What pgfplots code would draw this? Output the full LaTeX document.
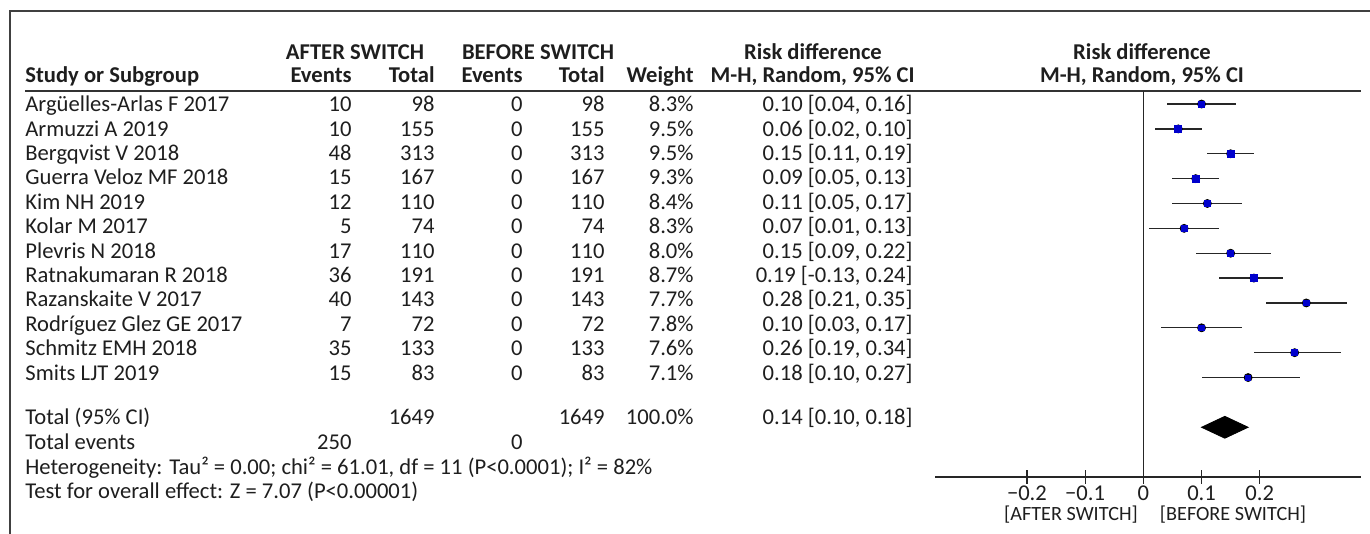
\documentclass[border=0pt]{standalone}
\usepackage{fontspec}
\setmainfont{Carlito}
\usepackage{pgfplots}
\usepackage{pgfplotstable}
\pgfplotsset{compat=1.18}
\definecolor{sqblue}{RGB}{0,0,204}
\definecolor{txt}{RGB}{30,30,30}
\pgfplotstableread{
row est lo hi w
1 0.10 0.04 0.16 8.3
2 0.06 0.02 0.10 9.5
3 0.15 0.11 0.19 9.5
4 0.09 0.05 0.13 9.3
5 0.11 0.05 0.17 8.4
6 0.07 0.01 0.13 8.3
7 0.15 0.09 0.22 8.0
8 0.19 0.13 0.24 8.7
9 0.28 0.21 0.35 7.7
10 0.10 0.03 0.17 7.8
11 0.26 0.19 0.34 7.6
12 0.18 0.10 0.27 7.1
}\forest
\newcommand{\studyrow}[8]{%
 \node[anchor=mid west] at (25,#1) {#2};
 \node[anchor=mid east] at (352,#1) {#3};
 \node[anchor=mid east] at (435,#1) {#4};
 \node[anchor=mid east] at (523,#1) {#5};
 \node[anchor=mid east] at (605,#1) {#6};
 \node[anchor=mid east] at (694,#1) {#7};
 \node[anchor=mid east] at (913,#1) {#8};}
\begin{document}
\begin{tikzpicture}
\begin{scope}[x=0.5pt,y=-0.5pt, every node/.style={inner sep=0pt, font=\fontsize{11.3}{13}\selectfont, text=txt}]
\useasboundingbox (0,0) rectangle (1370,534);
% frame
\draw[black!75, line width=0.6pt] (10,534) -- (10,11) -- (1370,11);
% header line
\draw[black!80, line width=0.6pt] (25,91) -- (1361,91);
% headers
\begin{scope}[every node/.append style={font=\fontsize{11.3}{13}\selectfont\bfseries}]
\node[anchor=mid] at (355,55) {AFTER SWITCH};
\node[anchor=mid] at (538,55) {BEFORE SWITCH};
\node[anchor=mid] at (813,55) {Risk difference};
\node[anchor=mid] at (1142,55) {Risk difference};
\node[anchor=mid west] at (25,78) {Study or Subgroup};
\node[anchor=mid east] at (352,78) {Events};
\node[anchor=mid east] at (435,78) {Total};
\node[anchor=mid east] at (523,78) {Events};
\node[anchor=mid east] at (605,78) {Total};
\node[anchor=mid east] at (694,78) {Weight};
\node[anchor=mid east] at (915,78) {M-H, Random, 95\% CI};
\node[anchor=mid] at (1142,78) {M-H, Random, 95\% CI};
\end{scope}
\studyrow{107}{Argüelles-Arlas F 2017}{10}{98}{0}{98}{8.3\%}{0.10 [0.04, 0.16]}
\studyrow{131.4}{Armuzzi A 2019}{10}{155}{0}{155}{9.5\%}{0.06 [0.02, 0.10]}
\studyrow{155.8}{Bergqvist V 2018}{48}{313}{0}{313}{9.5\%}{0.15 [0.11, 0.19]}
\studyrow{180.2}{Guerra Veloz MF 2018}{15}{167}{0}{167}{9.3\%}{0.09 [0.05, 0.13]}
\studyrow{204.6}{Kim NH 2019}{12}{110}{0}{110}{8.4\%}{0.11 [0.05, 0.17]}
\studyrow{229}{Kolar M 2017}{5}{74}{0}{74}{8.3\%}{0.07 [0.01, 0.13]}
\studyrow{253.4}{Plevris N 2018}{17}{110}{0}{110}{8.0\%}{0.15 [0.09, 0.22]}
\studyrow{277.8}{Ratnakumaran R 2018}{36}{191}{0}{191}{8.7\%}{0.19 [-0.13, 0.24]}
\studyrow{302.2}{Razanskaite V 2017}{40}{143}{0}{143}{7.7\%}{0.28 [0.21, 0.35]}
\studyrow{326.6}{Rodríguez Glez GE 2017}{7}{72}{0}{72}{7.8\%}{0.10 [0.03, 0.17]}
\studyrow{351}{Schmitz EMH 2018}{35}{133}{0}{133}{7.6\%}{0.26 [0.19, 0.34]}
\studyrow{375.4}{Smits LJT 2019}{15}{83}{0}{83}{7.1\%}{0.18 [0.10, 0.27]}
\node[anchor=mid west] at (25,420) {Total (95\% CI)};
\node[anchor=mid east] at (435,420) {1649};
\node[anchor=mid east] at (605,420) {1649};
\node[anchor=mid east] at (694,420) {100.0\%};
\node[anchor=mid east] at (913,420) {0.14 [0.10, 0.18]};
\node[anchor=mid west] at (25,445) {Total events};
\node[anchor=mid east] at (352,445) {250};
\node[anchor=mid east] at (523,445) {0};
\node[anchor=mid west] at (25,470) {Heterogeneity: Tau² = 0.00; chi² = 61.01, df = 11 (P<0.0001); I² = 82\%};
\node[anchor=mid west] at (25,494) {Test for overall effect: Z = 7.07 (P<0.00001)};
\node[anchor=mid, font=\fontsize{10.1}{12}\selectfont] at (1071,516) {[AFTER SWITCH]};
\node[anchor=mid, font=\fontsize{10.1}{12}\selectfont] at (1233,516) {[BEFORE SWITCH]};
\end{scope}
\begin{axis}[at={(467.5pt,-45.5pt)}, anchor=north west, scale only axis,
  width=213pt, height=193pt,
  xmin=-0.358, xmax=0.374, ymin=-16.0, ymax=-0.476,
  axis x line*=bottom, axis y line=none,
  axis line style={black!85, line width=0.6pt},
  xtick={-0.2,-0.1,0,0.1,0.2},
  xticklabels={{−0.2},{−0.1},0,0.1,0.2},
  tick align=center, major tick length=6.5pt,
  tick style={black!85, line width=0.6pt},
  xticklabel style={font=\fontsize{11.3}{13}\selectfont, text=txt, inner sep=0pt, yshift=-1pt},
  clip=false]
\addplot[black!85, line width=0.6pt] coordinates {(0,-0.476) (0,-16.0)};
\addplot[only marks, mark=none, error bars/.cd, x dir=both, x explicit, error mark=none,
  error bar style={line width=0.65pt, black!85}]
  table[x=est, y expr=-\thisrow{row}, x error plus expr=\thisrow{hi}-\thisrow{est}, x error minus expr=\thisrow{est}-\thisrow{lo}]{\forest};
\addplot[only marks, mark=square*, scatter, scatter/use mapped color={draw=sqblue, fill=sqblue},
  visualization depends on={\thisrow{w} \as \wt},
  scatter/@pre marker code/.append style={/tikz/mark size=0.185*\wt}]
  table[x=est, y expr=-\thisrow{row}]{\forest};
\addplot[fill=black, draw=black] coordinates {(0.10,-14) (0.14,-13.56) (0.18,-14) (0.14,-14.44)} -- cycle;
\end{axis}
\end{tikzpicture}
\end{document}
